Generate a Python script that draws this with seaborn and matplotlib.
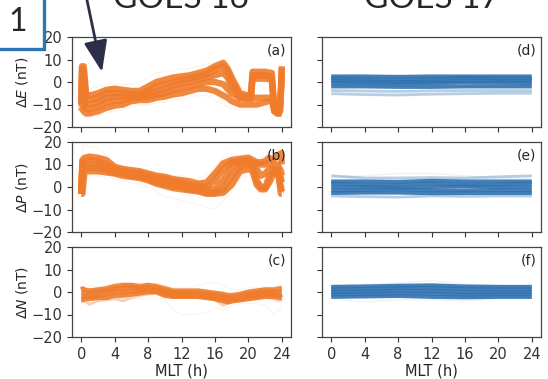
import pandas as pd
import seaborn as sns
import matplotlib.pyplot as plt
from matplotlib.patches import Rectangle, FancyArrowPatch

sns.set_style('ticks')
plt.rcParams['font.family'] = ['DejaVu Sans']

W, H = 548, 379
orange = '#ef7b2b'
blue = '#2f72b0'

# ---- GOES 16, dE (panel a) ----
mlt_a = [0, 0.1, 0.3, 0.6, 1, 2, 3, 4, 5, 6, 7, 8, 9, 10, 11, 12, 13, 14, 15, 16,
         17, 17.5, 18, 19, 20, 20.3, 20.5, 21, 22, 22.8, 23.1, 23.5, 23.8, 24]
de_g16 = [
    [-8, 7, 7, -6, -6, -5, -3.5, -3, -3.5, -4, -4, -2, 0, 1, 2, 2.5, 3, 4, 5, 7,
     8.5, 6, 2, -5, -6, -6, 4.5, 4.5, 4.5, 4, -12, -13, -12, 7],
    [-9, 6, 5, -8, -8, -7, -5, -5, -5, -5.5, -5.5, -4, -2, -1, 0, 1, 1.5, 2.5, 3.5, 5.5,
     7, 5, 0, -6, -7, -7, 3, 3, 3, 2, -13, -14, -13, 6],
    [-10, -6, -8, -10, -10, -9, -7, -6.5, -6.5, -6, -6, -5, -4, -3, -1.5, -0.5, 0, 1, 2, 3,
     4, 2, -2, -7, -7.5, -7.5, 1.5, 1.5, 1.5, 1, -12, -13, -10, 2],
    [-11, -9, -10, -12, -12, -11, -9, -8.5, -8, -7, -7, -6.5, -5.5, -5, -3.5, -2.5, -2, -1, 0, 0,
     -1, -3, -5, -7, -7, -7, -7, -7, -7, -7, -11, -12, -8, -8],
    [-13, -12, -13, -14, -14, -13, -11.5, -10.5, -10, -8.5, -8, -8, -7, -6.5, -5.5, -5, -4, -3, -3, -4,
     -6, -7, -8.5, -10, -10, -10, -10, -10, -9, -8, -13, -14, -14, -14],
]
de_g16_faint = [
    [-5, -5, -5, -4, -3, -2, -1, -1, -1, -1, 0, 2, 4, 5, 5, 6, 6, 7, 8, 9,
     9, 8, 5, -2, -4, -4, 6, 6, 6, 5, -8, -9, -8, 5],
    [-15, -14, -15, -16, -16, -15, -14, -13, -12, -11, -10, -10, -9, -9, -8, -8, -7, -6, -6, -8,
     -10, -11, -12, -12, -12, -12, -12, -12, -12, -12, -15, -15, -15, -15],
]

# ---- GOES 16, dP (panel b) ----
mlt_b = [0, 0.15, 0.4, 1, 2, 3, 4, 5, 6, 7, 8, 9, 10, 11, 12, 13, 14, 15, 16, 17,
         18, 19, 20, 20.5, 21, 21.5, 22, 22.5, 23, 23.5, 23.9, 24]
dp_g16 = [
    [-3, 12, 13, 13.5, 13, 12, 9, 8, 7.5, 7, 6, 5, 4.5, 3.5, 3, 2.5, 1.5, 2, 6, 10.5,
     12, 12.5, 13, 12, 11, 11, 11.5, 13, 12, 14, 15, 10],
    [-3, 11, 11.5, 12, 11.5, 10, 8, 7, 6.5, 6, 5, 4, 3.5, 2.5, 2, 1, 0.5, 0, 3, 8,
     11, 11.5, 12, 11, 10.5, 10, 10, 11, 9, 10, 7, 5],
    [-3, 10, 10, 10, 10, 8.5, 7.5, 6.5, 6, 5, 4.5, 3, 2.5, 1.5, 1, 0, -0.5, -1.5, -1, 3,
     9, 10.5, 11, 10, 8, 5, 6, 8, 8, 6, 4, 2],
    [-3, 8, 8.5, 8.5, 8.5, 7.5, 6.5, 6, 5, 4.5, 3.5, 2, 1.5, 0.5, 0, -1, -1.5, -2.5, -2.5, -1,
     5, 9, 10, 9, 3, 0, -0.5, 5, 7, 7, 0, -2],
    [-3, -3, 7, 7, 7, 6.5, 6, 5, 4.5, 4, 3, 1.5, 0.5, -0.5, -1, -1.5, -2, -3, -3, -2.5,
     1, 7, 8, 7, 1, -1, -1, 2, 6, 8, -3, -3],
]
dp_g16_faint = [
    [14, 17, 19, 18, 17, 14, 10, 9, 8.5, 8, 7, 6.5, 6, 5, 5, 4, 4, 5, 9, 13,
     14, 14, 15, 14, 13, 13, 14, 16, 15, 17, 18, 14],
    [-3, 5, 5, 5, 5, 4, 4, 3, 2, 1, 0, -2, -4, -5, -6, -7, -8, -9, -10, -6,
     -2, 4, 5, 4, -2, -3, -3, 0, 3, 4, -4, -4],
]

# ---- GOES 16, dN (panel c) ----
mlt_c = [0, 0.2, 0.4, 1, 2, 3, 4, 5, 6, 7, 8, 9, 10, 11, 12, 13, 14, 15, 16, 17,
         17.5, 18, 19, 20, 21, 22, 23, 23.8, 24]
dn_g16 = [
    [1, 1.5, 1, 0.5, 1, 1.5, 2.5, 3, 3, 2.5, 3, 2.5, 1.5, 0.5, 0.5, 0.5, 0.5, 0, -0.5, -1,
     -1.5, -1.5, -1, 0, 0.5, 1, 1, 1.5, 1.5],
    [0, 0, -0.5, -0.5, 0, 0.5, 1.5, 1.5, 2, 1.5, 2, 1.5, 0.5, -0.5, -0.5, -0.5, -0.5, -1, -1.5, -2,
     -2.5, -2.5, -2, -1, -0.5, 0, 0, 0, 0],
    [-2, -2, -2, -2, -1.5, -1, 0, 0, 0.5, 0.5, 1, 0.5, -0.5, -1.5, -1.5, -1.5, -1.5, -2, -2.5, -3,
     -3.5, -3.5, -3, -2, -1.5, -1, -1, -1.5, -1],
    [-3.5, -3.5, -3, -3, -2.5, -2.5, -1.5, -1.5, -1, -0.5, 0, 0, -1.5, -2, -2, -2, -2, -2.5, -3, -4,
     -4.5, -4, -3.5, -3, -2.5, -2, -2, -2.5, -2.5],
]
dn_g16_light = [
    [-4, -4, -4, -5.5, -4, -3.5, -3, -4, -2.5, -1.5, -1, -0.5, -2, -2.5, -2.5, -2.5, -2.5, -3, -3.5, -6,
     -5, -4.5, -4, -3.5, -3, -2.5, -3, -4, -3],
]
dn_g16_faint = [
    [-3, -3, -3, -3, -3, -3, -3, -3, -3, -3, -3, -3, -3, -8, -10, -10, -10, -9, -7, -8,
     -7, -6, -5, -5, -5, -6, -10, -8, -5],
    [4, 5, 4, 3, 2, 3, 4, 4, 4, 4, 4, 4, 3, 2, 2, 2, 3, 4, 4, 3,
     2, 1, 1, 2, 2, 2, 2, 3, 3],
]

# ---- GOES 17 (panels d, e, f) ----
mlt_g17 = [0, 4, 8, 12, 16, 20, 24]
de_g17 = [
    [2.5, 2.5, 2.3, 2.5, 2.5, 2.5, 2.5],
    [1.5, 1.3, 1.0, 1.3, 1.8, 1.5, 1.5],
    [0.5, 0.3, 0.0, 0.2, 0.5, 0.5, 0.5],
    [-0.5, -0.6, -0.8, -0.5, -0.3, -0.4, -0.5],
    [-2.0, -2.0, -2.2, -2.2, -2.0, -2.0, -2.0],
]
de_g17_light = [
    [-3.8, -4.0, -4.2, -3.9, -3.8, -3.8, -3.8],
    [-5.2, -5.6, -5.8, -5.4, -5.2, -5.0, -5.0],
]
dp_g17 = [
    [2.5, 2.5, 2.3, 2.8, 2.5, 2.5, 2.5],
    [1.5, 1.0, 1.0, 1.5, 1.0, 1.2, 1.5],
    [0.0, 0.0, -0.3, 0.0, 0.3, 0.0, 0.0],
    [-1.5, -1.3, -1.0, -1.5, -1.5, -1.3, -1.5],
    [-2.7, -2.5, -2.5, -2.8, -2.7, -2.7, -2.7],
]
dp_g17_light = [
    [5.0, 4.0, 4.0, 4.2, 4.0, 4.5, 5.0],
    [-4.0, -4.3, -4.5, -4.0, -4.2, -4.0, -4.0],
]
dp_g17_faint = [
    [4.0, 5.0, 6.0, 6.0, 5.0, 4.0, 4.0],
]
dn_g17 = [
    [2.3, 2.5, 2.8, 3.0, 2.5, 2.3, 2.3],
    [1.2, 1.3, 1.8, 1.8, 1.3, 1.2, 1.2],
    [0.0, 0.2, 0.6, 0.5, 0.0, 0.0, 0.0],
    [-1.0, -1.0, -0.6, -0.8, -1.2, -1.0, -1.0],
    [-2.2, -2.0, -1.8, -2.2, -2.4, -2.2, -2.2],
]
dn_g17_faint = [
    [3.0, 3.5, 4.0, 5.0, 3.5, 3.0, 3.0],
    [-3.0, -4.5, -3.5, -3.5, -4.0, -3.0, -3.0],
]

ylabels = [r'$\Delta E$ (nT)', r'$\Delta P$ (nT)', r'$\Delta N$ (nT)']
panel_tags = [['(a)', '(b)', '(c)'], ['(d)', '(e)', '(f)']]


def to_long(mlt, traces):
    rows = []
    for i, tr in enumerate(traces):
        for x, y in zip(mlt, tr):
            rows.append({'mlt': x, 'val': y, 'trace': i})
    return pd.DataFrame(rows)


def draw(ax, mlt, traces, color, lw, alpha):
    if not traces:
        return
    df = to_long(mlt, traces)
    sns.lineplot(data=df, x='mlt', y='val', units='trace', estimator=None,
                 color=color, lw=lw, alpha=alpha, legend=False, ax=ax,
                 solid_joinstyle='round', solid_capstyle='butt')


fig = plt.figure(figsize=(W / 100, H / 100), dpi=100)


def add_ax(left, top, right, bottom):
    return fig.add_axes([left / W, 1 - bottom / H, (right - left) / W, (bottom - top) / H])


rows_px = [(37, 127), (142, 232), (247, 337)]
cols_px = [(72, 291), (322, 541)]

panels = [
    [(mlt_a, de_g16, de_g16_faint, []), (mlt_b, dp_g16, dp_g16_faint, []),
     (mlt_c, dn_g16, dn_g16_faint, dn_g16_light)],
    [(mlt_g17, de_g17, [], de_g17_light), (mlt_g17, dp_g17, dp_g17_faint, dp_g17_light),
     (mlt_g17, dn_g17, dn_g17_faint, [])],
]
main_lw = [[4.6, 4.6, 3.6], [2.8, 2.8, 2.8]]

for c, (x0, x1) in enumerate(cols_px):
    color = orange if c == 0 else blue
    for r, (y0, y1) in enumerate(rows_px):
        ax = add_ax(x0, y0, x1, y1)
        mlt, main, faint, light = panels[c][r]
        draw(ax, mlt, faint, color, 1.0, 0.08)
        draw(ax, mlt, light, color, 2.0, 0.35)
        draw(ax, mlt, main, color, main_lw[c][r], 0.9)
        ax.set_xlim(-1.1, 25.1)
        ax.set_ylim(-20, 20)
        ax.set_xticks([0, 4, 8, 12, 16, 20, 24])
        ax.set_yticks([-20, -10, 0, 10, 20])
        ax.tick_params(labelsize=10.5, length=3.5, width=0.8, colors='#333333')
        for s in ax.spines.values():
            s.set_color('#444444')
            s.set_linewidth(0.9)
        ax.set_xlabel('')
        ax.set_ylabel('')
        if c == 0:
            ax.set_ylabel(ylabels[r], fontsize=10, labelpad=1)
        else:
            ax.tick_params(labelleft=False)
        if r < 2:
            ax.tick_params(labelbottom=False)
        else:
            ax.set_xlabel('MLT (h)', fontsize=10.5, labelpad=1)
        ax.text(0.98, 0.93, panel_tags[c][r], transform=ax.transAxes,
                ha='right', va='top', fontsize=10)

# headers, cut off at the top edge as in the source image
fig.text(181 / W, 1 - 8.5 / H, 'GOES 16', ha='center', va='baseline',
         fontsize=24, family='Lato')
fig.text(432 / W, 1 - 8.5 / H, 'GOES 17', ha='center', va='baseline',
         fontsize=24, family='Lato')

# numbered box in the corner
box = Rectangle((-10 / W, 1 - 49 / H), 54 / W, 60 / H, transform=fig.transFigure,
                facecolor='white', edgecolor='#2e75b6', lw=2.4, zorder=5)
fig.add_artist(box)
fig.text(17.5 / W, 1 - 22 / H, '1', ha='center', va='center', fontsize=23,
         family='Lato', zorder=6)

# arrow pointing into panel (a)
arrow = FancyArrowPatch((85.3 / W, 1 + 8 / H), (102 / W, 1 - 72 / H),
                        transform=fig.transFigure,
                        arrowstyle='-|>,head_length=1.6,head_width=0.6',
                        mutation_scale=12, lw=2.0, color='#2d2f4a',
                        shrinkA=0, shrinkB=0, zorder=7)
fig.add_artist(arrow)

fig.savefig('out.png', dpi=100)
